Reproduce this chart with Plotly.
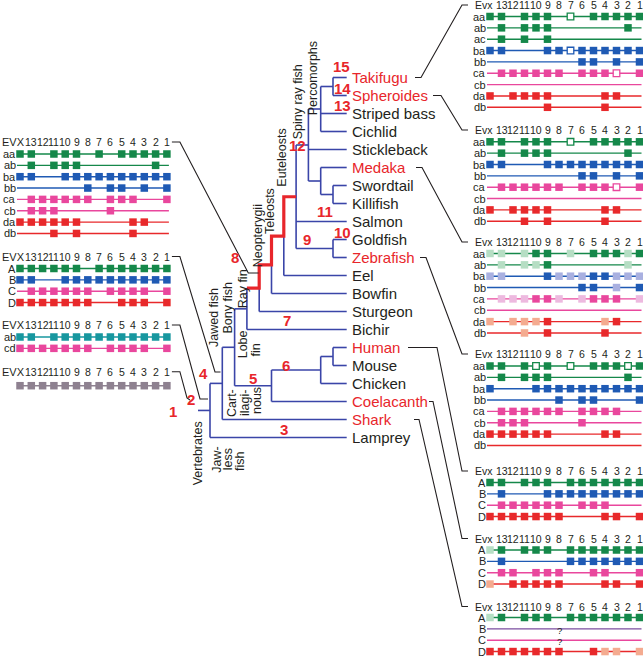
import plotly.graph_objects as go

FONT = "Liberation Sans, Arial, Helvetica, sans-serif"
INK = "#231f20"
TREE_BLUE = "#3a45a8"
HL_RED = "#e8262b"

# ---------------- data ----------------
TAXA = ["Takifugu", "Spheroides", "Striped bass", "Cichlid", "Stickleback",
        "Medaka", "Swordtail", "Killifish", "Salmon", "Goldfish", "Zebrafish",
        "Eel", "Bowfin", "Sturgeon", "Bichir", "Human", "Mouse", "Chicken",
        "Coelacanth", "Shark", "Lamprey"]
RED_TAXA = ["Takifugu", "Spheroides", "Medaka", "Zebrafish", "Human",
            "Coelacanth", "Shark"]

# (node name, depth level, children)
TREE = ("Vertebrates", 0, [
    ("Jawed", 1, [
        ("Bony", 2, [
            ("RayFin", 3, [
                ("Actinopteri", 4, [
                    ("Neopterygii", 5, [
                        ("Teleosts", 6, [
                            ("Clupeocephala", 7, [
                                ("SpinyRay", 8, [
                                    ("Percomorphs", 9, [
                                        ("Puffers", 10, ["Takifugu", "Spheroides"]),
                                        "Striped bass", "Cichlid"]),
                                    "Stickleback",
                                    ("Atherinomorphs", 9, [
                                        "Medaka",
                                        ("Cyprinodonts", 10, ["Swordtail", "Killifish"])]),
                                ]),
                                "Salmon",
                                ("Cypriniformes", 10, ["Goldfish", "Zebrafish"]),
                            ]),
                            "Eel",
                        ]),
                        "Bowfin",
                    ]),
                    "Sturgeon",
                ]),
                "Bichir",
            ]),
            ("LobeFin", 5, [
                ("Tetrapods", 9, [("Mammals", 10, ["Human", "Mouse"]), "Chicken"]),
                "Coelacanth",
            ]),
        ]),
        "Shark",
    ]),
    "Lamprey",
])
RED_PATH = ["Actinopteri", "Neopterygii", "Teleosts", "Clupeocephala"]

NODE_NUMBERS = ["1", "2", "3", "4", "5", "6", "7", "8", "9", "10",
                "11", "12", "13", "14", "15"]
NODE_NUMBER_ANCHORS = ["Vertebrates", "Vertebrates", "Lamprey", "Jawed", "LobeFin",
                       "Tetrapods", "Bichir", "Neopterygii", "Cypriniformes",
                       "Goldfish", "Salmon", "Stickleback", "Striped bass",
                       "Spheroides", "Takifugu"]

CLADE_LABELS = ["Percomorphs", "Spiny ray fish", "Euteleosts", "Teleosts",
                "Neopterygii", "Ray fin", "Bony fish", "Jawed fish", "Lobe", "fin",
                "Cart-", "ilagi-", "nous", "Vertebrates", "Jaw-", "less", "fish"]

HOX_COLS_RIGHT = ["Evx", "13", "12", "11", "10", "9", "8", "7", "6", "5", "4", "3", "2", "1"]
HOX_COLS_LEFT = ["EVX"] + HOX_COLS_RIGHT[1:]

# gene codes per column: 1 present, o present (open box), p present (pale box), 0 absent
TAKIFUGU_ROWS = ["aa", "ab", "ac", "ba", "bb", "ca", "cb", "da", "db"]
TAKIFUGU_FAM = "gggbbpprr"
TAKIFUGU_GENES = ["1101110o011111", "01011100000010", "01010100000000",
                  "1100011o111111", "00000000110101", "01111110111o01",
                  "00000000000000", "10111100001100", "00000100001000"]

SPHEROIDES_ROWS = ["aa", "ab", "ba", "bb", "ca", "cb", "da", "db"]
SPHEROIDES_FAM = "ggbbpprr"
SPHEROIDES_GENES = ["1101110o011111", "01011100000010", "11000111111111",
                    "00000000110101", "01111110111o01", "00000000000000",
                    "10111100001100", "00010100001000"]

MEDAKA_ROWS = ["aa", "ab", "ba", "bb", "ca", "cb", "da", "db"]
MEDAKA_FAM = "ggbbpprr"
MEDAKA_GENES = ["pp0p110p0111p1", "0p0pp1000000p0", "pp0001ppp11ppp",
                "00000000110p01", "0ppp11p0p1110p", "00000000000000",
                "p0ppp10000p100", "000p0100001000"]

ZEBRAFISH_ROWS = ["aa", "ab", "ba", "bb", "ca", "cb", "da", "db"]
ZEBRAFISH_FAM = "ggbbpprr"
ZEBRAFISH_GENES = ["1101o10o0111o1", "01011100000010", "10001111111111",
                   "00000010110001", "01111110111100", "01110000100000",
                   "11111100001100", "00000000000000"]

HUMAN_ROWS = ["A", "B", "C", "D"]
HUMAN_FAM = "gbpr"
HUMAN_GENES = ["11011101111111", "01000111111111", "01111110111000", "11111110001101"]

COELACANTH_ROWS = ["A", "B", "C", "D"]
COELACANTH_FAM = "gbpr"
COELACANTH_GENES = ["p1011101111111", "01000001111111", "01101110011001", "p0111110001101"]

SHARK_ROWS = ["A", "B", "C", "D"]
SHARK_FAM = "gvpr"
SHARK_GENES = ["p1011101111111", "00000000000000", "00000000000000", "1111111001pp0p"]
SHARK_UNKNOWN = ["", "?", "?", ""]

TELEOST_ANC_ROWS = ["aa", "ab", "ba", "bb", "ca", "cb", "da", "db"]
TELEOST_ANC_FAM = "ggbbpprr"
TELEOST_ANC_GENES = ["11011101011111", "01011100000010", "11001111111111",
                     "00000010110101", "01111110111001", "01110000100000",
                     "11111100001100", "00010100001000"]

JAWED_ANC_ROWS = ["A", "B", "C", "D"]
JAWED_ANC_FAM = "gbpr"
JAWED_ANC_GENES = ["11111101111111", "11001111111111", "01111110111101", "11111110011101"]

VERT_ANC_ROWS = ["ab", "cd"]
VERT_ANC_FAM = "tp"
VERT_ANC_GENES = ["11011111111111", "11111110111101"]

CHORDATE_ANC_ROWS = [""]
CHORDATE_ANC_FAM = "k"
CHORDATE_ANC_GENES = ["11111111111111"]

# ---------------- styles / layout ----------------
FAM_COLORS = {  # (solid, pale)
    "g": ("#15884a", "#b6dec4"),
    "b": ("#1f5ab4", "#a9b0e0"),
    "p": ("#e9479d", "#edb9df"),
    "r": ("#e8292b", "#f4ab90"),
    "t": ("#17979f", "#a8d9dc"),
    "k": ("#8e8190", "#cfc8d0"),
    "v": ("#7a4c9f", "#c9b6dc"),
}

TIP_X, STEM_X0 = 346.7, 198.0
LVL_X0, LVL_DX = 210.0, 12.3
LEAF_Y0, LEAF_DY = 77.5, 18.0
LABEL_X = 350.0

NUMBER_OFFSETS = [(-37, 1), (-19, -11), (-63, -8), (-19, -10), (-19, -7), (-35, -5),
                  (-60, -9), (-37, -7), (-26, -9), (-4, -7), (-22, -10), (-49, -4),
                  (-4, -8), (-4, -7), (-5, -11)]
CLADE_POS = [(313.3, 78), (298.3, 102), (281.7, 158), (270, 211), (258.3, 236),
             (243.3, 289), (227.5, 308), (214, 318), (243.3, 344), (255.5, 350),
             (232, 403), (245, 403), (257, 401), (198.3, 453), (216.7, 460),
             (228.3, 459), (240, 461)]

RIGHT_X0, RIGHT_DX = 490.0, 11.5
LEFT_X0, LEFT_DX = 20.0, 11.3
ROW_GAP = 11.35

PANELS = [
    # rows, families, genes, side, header y, first-row offset, unknown marks
    (TAKIFUGU_ROWS, TAKIFUGU_FAM, TAKIFUGU_GENES, "R", 5.0, 11.5, None),
    (SPHEROIDES_ROWS, SPHEROIDES_FAM, SPHEROIDES_GENES, "R", 130.0, 11.8, None),
    (MEDAKA_ROWS, MEDAKA_FAM, MEDAKA_GENES, "R", 242.0, 11.5, None),
    (ZEBRAFISH_ROWS, ZEBRAFISH_FAM, ZEBRAFISH_GENES, "R", 354.0, 12.0, None),
    (HUMAN_ROWS, HUMAN_FAM, HUMAN_GENES, "R", 471.0, 11.5, None),
    (COELACANTH_ROWS, COELACANTH_FAM, COELACANTH_GENES, "R", 538.5, 11.5, None),
    (SHARK_ROWS, SHARK_FAM, SHARK_GENES, "R", 606.5, 11.0, SHARK_UNKNOWN),
    (TELEOST_ANC_ROWS, TELEOST_ANC_FAM, TELEOST_ANC_GENES, "L", 142.0, 12.0, None),
    (JAWED_ANC_ROWS, JAWED_ANC_FAM, JAWED_ANC_GENES, "L", 256.5, 12.0, None),
    (VERT_ANC_ROWS, VERT_ANC_FAM, VERT_ANC_GENES, "L", 325.0, 12.0, None),
    (CHORDATE_ANC_ROWS, CHORDATE_ANC_FAM, CHORDATE_ANC_GENES, "L", 371.7, 14.0, None),
]

# callouts: taxon -> right panel index, line start x, corner x
RIGHT_CALLOUTS = [("Takifugu", 0, 415, 421), ("Spheroides", 1, 433, 441),
                  ("Medaka", 2, 416, 422), ("Zebrafish", 3, 420, 426),
                  ("Human", 4, 408, 437), ("Coelacanth", 5, 429, 433),
                  ("Shark", 6, 414, 419)]
# left panel index -> end points of the leader line
LEFT_CALLOUTS = [(7, (248.3, 273), (258.5, 273)), (8, (215, 372), (220.5, 372)),
                 (9, (200, 399), (208, 399)), (10, (187, 398), (190, 400))]

# ---------------- build ----------------
fig = go.Figure()
ann = []


def txt(x, y, s, size, color=INK, xanchor="center", angle=0):
    ann.append(dict(x=x, y=y, xref="x", yref="y", text=s, showarrow=False,
                    font=dict(family=FONT, size=size, color=color),
                    xanchor=xanchor, yanchor="middle", textangle=angle))


def add_paths(paths, color, width):
    xs, ys = [], []
    for path in paths:
        for (x, y) in path:
            xs.append(x)
            ys.append(y)
        xs.append(None)
        ys.append(None)
    fig.add_trace(go.Scatter(x=xs, y=ys, mode="lines", hoverinfo="skip",
                             line=dict(color=color, width=width), showlegend=False))


# tree
leaf_y = {t: LEAF_Y0 + LEAF_DY * i for i, t in enumerate(TAXA)}
node_pos, parent_of, tree_segs = {}, {}, []


def walk(node, parent_x, parent_name):
    if isinstance(node, str):
        y = leaf_y[node]
        tree_segs.append([(parent_x, y), (TIP_X, y)])
        node_pos[node] = (TIP_X, y)
        parent_of[node] = parent_name
        return y
    name, lvl, kids = node
    x = LVL_X0 + LVL_DX * lvl
    ys = [walk(k, x, name) for k in kids]
    y = (min(ys) + max(ys)) / 2
    tree_segs.append([(x, min(ys)), (x, max(ys))])
    tree_segs.append([(parent_x, y), (x, y)])
    node_pos[name] = (x, y)
    parent_of[name] = parent_name
    return y


walk(TREE, STEM_X0, None)
add_paths(tree_segs, TREE_BLUE, 1.6)

red = []
for i, name in enumerate(RED_PATH):
    x, y = node_pos[name]
    px = node_pos[parent_of[name]][0]
    if i == 0:
        red.append((px, y))
    red.append((x, y))
    if i + 1 < len(RED_PATH):
        red.append((x, node_pos[RED_PATH[i + 1]][1]))
add_paths([red], HL_RED, 3.2)

for t in TAXA:
    txt(LABEL_X, leaf_y[t], t, 15, HL_RED if t in RED_TAXA else INK, "left")

for s, a, (dx, dy) in zip(NODE_NUMBERS, NODE_NUMBER_ANCHORS, NUMBER_OFFSETS):
    x, y = node_pos[a]
    txt(x + dx, y + dy, "<b>%s</b>" % s, 15, HL_RED)

for s, (x, y) in zip(CLADE_LABELS, CLADE_POS):
    txt(x, y, s, 12.5, INK, "center", -90)

# gene panels
line_paths = {}
marks = {}
panel_geom = []
for rows, fams, genes, side, hy, off, unk in PANELS:
    x0, dx = (RIGHT_X0, RIGHT_DX) if side == "R" else (LEFT_X0, LEFT_DX)
    cols = [x0 + dx * i for i in range(14)]
    heads = HOX_COLS_RIGHT if side == "R" else HOX_COLS_LEFT
    panel_geom.append((cols, hy))
    for i, h in enumerate(heads):
        if i == 0:
            txt(cols[0] - 6.5, hy, h, 10.5 if side == "R" else 11)
        else:
            txt(cols[i], hy, h, 10.5)
    for r, (lab, fam, code) in enumerate(zip(rows, fams, genes)):
        y = hy + off + ROW_GAP * r
        line_paths.setdefault(fam, []).append([(cols[0] - 3, y), (cols[-1] + 2, y)])
        for i, ch in enumerate(code):
            if ch != "0":
                marks.setdefault((fam, ch), []).append((cols[i], y))
        if lab:
            txt(cols[0] - 2.5, y, lab, 11, INK, "right")
        if unk and unk[r]:
            txt(cols[6], y + 1.5, unk[r], 9.5)

for fam, paths in line_paths.items():
    add_paths(paths, FAM_COLORS[fam][0], 1.4)

for (fam, ch), pts in marks.items():
    solid, pale = FAM_COLORS[fam]
    if ch == "1":
        mk = dict(symbol="square", size=7.5, color=solid, line=dict(width=0))
    elif ch == "p":
        mk = dict(symbol="square", size=7.5, color=pale, line=dict(width=0))
    else:
        mk = dict(symbol="square", size=6.6, color="white", line=dict(width=1.3, color=solid))
    fig.add_trace(go.Scatter(x=[p[0] for p in pts], y=[p[1] for p in pts], mode="markers",
                             marker=mk, hoverinfo="skip", showlegend=False))

# leader lines
leaders = []
for taxon, pi, sx, cx in RIGHT_CALLOUTS:
    cols, hy = panel_geom[pi]
    ty = leaf_y[taxon]
    px = cols[0] - 22
    leaders.append([(sx, ty), (cx, ty), (px - 6, hy), (px, hy)])
for pi, (ex, ey), (fx, fy) in LEFT_CALLOUTS:
    cols, hy = panel_geom[pi]
    sx = cols[-1] + 5
    leaders.append([(sx, hy), (sx + 8, hy), (ex, ey), (fx, fy)])
add_paths(leaders, INK, 1.1)

fig.update_layout(
    width=643, height=657, margin=dict(l=0, r=0, t=0, b=0),
    paper_bgcolor="white", plot_bgcolor="white", showlegend=False,
    xaxis=dict(range=[0, 643], visible=False, fixedrange=True),
    yaxis=dict(range=[657, 0], visible=False, fixedrange=True),
    annotations=ann,
)
fig.write_html("out.html", config={"displayModeBar": False},
               post_script="document.body.style.margin='0';document.body.style.overflow='hidden';")
